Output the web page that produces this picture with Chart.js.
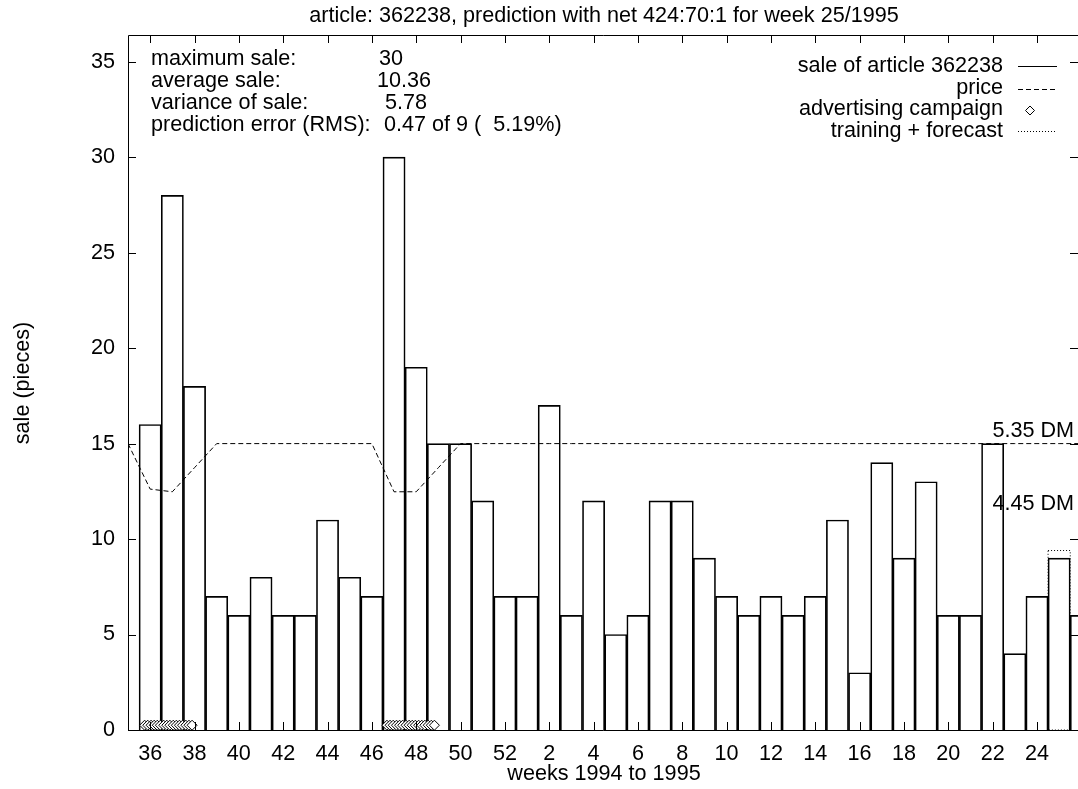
<!DOCTYPE html>
<html>
<head>
<meta charset="utf-8">
<script src="https://cdn.jsdelivr.net/npm/chart.js@4.4.0/dist/chart.umd.min.js"></script>
<style>
  body { margin: 0; background: #fff; }
  canvas { display: block; }
</style>
</head>
<body>
<canvas id="chart" width="1078" height="789"></canvas>
<script>
// weeks on the x axis, 35/1994 .. 26/1995
const weeks = [35, 36, 37, 38, 39, 40, 41, 42, 43, 44, 45, 46, 47, 48, 49, 50, 51, 52,
  1, 2, 3, 4, 5, 6, 7, 8, 9, 10, 11, 12, 13, 14, 15, 16, 17, 18, 19, 20, 21, 22, 23, 24, 25, 26];
const sales = [null, 16, 28, 18, 7, 6, 8, 6, 6, 11, 8, 7, 30, 19, 15, 15, 12, 7,
  7, 17, 6, 12, 5, 6, 12, 12, 9, 7, 6, 7, 6, 7, 11, 3, 14, 9, 13, 6, 6, 15, 4, 7, 9, 6];
// price in DM, 5.35 DM is drawn at sale level 15
const priceDM = [5.35, 4.50, 4.45, 4.90, 5.35, 5.35, 5.35, 5.35, 5.35, 5.35, 5.35, 5.35, 4.45, 4.45, 4.90, 5.35, 5.35, 5.35,
  5.35, 5.35, 5.35, 5.35, 5.35, 5.35, 5.35, 5.35, 5.35, 5.35, 5.35, 5.35, 5.35, 5.35, 5.35, 5.35, 5.35, 5.35, 5.35, 5.35, 5.35, 5.35, 5.35, 5.35, 5.35, 5.35];
// advertising campaign days (position in weeks from week 35)
const campaignX = [0.75, 0.89, 1.04, 1.18, 1.32, 1.46, 1.61, 1.75, 1.89, 2.04, 2.18, 2.32, 2.46, 2.61, 2.75, 2.89,
  11.68, 11.82, 11.96, 12.11, 12.25, 12.39, 12.54, 12.68, 12.82, 12.96, 13.11, 13.25, 13.39, 13.54, 13.68, 13.82];
const campaignLevel = 0.25;
const forecastWeeks = [25];
const forecastSales = [9.4];

const tickWeeks = [36, 38, 40, 42, 44, 46, 48, 50, 52, 2, 4, 6, 8, 10, 12, 14, 16, 18, 20, 22, 24];
const yTicks = [0, 5, 10, 15, 20, 25, 30, 35];
const yMax = 36.4;

const stats = [
  ["maximum sale:", "30"],
  ["average sale:", "10.36"],
  ["variance of sale:", "5.78"],
  ["prediction error (RMS):", "0.47 of 9 (  5.19%)"]
];
const legendLabels = ["sale of article 362238", "price", "advertising campaign", "training + forecast"];

const FONT = "21.6px 'Liberation Sans', Arial, sans-serif";
Chart.defaults.font.family = "'Liberation Sans', Arial, sans-serif";
Chart.defaults.font.size = 21.6;
Chart.defaults.color = "#000";

const gnuFrame = {
  id: "gnuFrame",
  afterDatasetsDraw(chart) {
    const { ctx, chartArea: a } = chart;
    // dotted boxes for the forecast
    const meta = chart.getDatasetMeta(3);
    ctx.save();
    ctx.beginPath();
    ctx.rect(a.left, a.top, a.right - a.left, a.bottom - a.top);
    ctx.clip();
    ctx.strokeStyle = "#000";
    ctx.lineWidth = 1;
    ctx.setLineDash([1, 2]);
    meta.data.forEach((el) => {
      const { x, y, base, width } = el.getProps(["x", "y", "base", "width"], true);
      ctx.strokeRect(x - width / 2, y, width, base - y);
    });
    ctx.restore();
  },
  afterDraw(chart) {
    const { ctx, chartArea: a, scales } = chart;
    ctx.save();
    ctx.strokeStyle = "#000";
    ctx.lineWidth = 1;
    ctx.beginPath();
    ctx.moveTo(a.right, a.top + 0.5);
    ctx.lineTo(a.left + 0.5, a.top + 0.5);
    ctx.lineTo(a.left + 0.5, a.bottom + 0.5);
    ctx.lineTo(a.right, a.bottom + 0.5);
    scales.x.ticks.forEach((t) => {
      const px = Math.round(scales.x.getPixelForValue(t.value)) + 0.5;
      ctx.moveTo(px, a.bottom);
      ctx.lineTo(px, a.bottom - 8);
      ctx.moveTo(px, a.top);
      ctx.lineTo(px, a.top + 8);
    });
    scales.y.ticks.forEach((t) => {
      const py = Math.round(scales.y.getPixelForValue(t.value)) + 0.5;
      ctx.moveTo(a.left, py);
      ctx.lineTo(a.left + 8, py);
      ctx.moveTo(a.right, py);
      ctx.lineTo(a.right - 8, py);
    });
    ctx.stroke();

    ctx.fillStyle = "#000";
    ctx.font = FONT;
    ctx.textBaseline = "middle";
    ctx.textAlign = "center";
    ctx.fillText("article: 362238, prediction with net 424:70:1 for week 25/1995", 604, 16.5);
    ctx.fillText("weeks 1994 to 1995", 604, 774);
    ctx.save();
    ctx.translate(23, 383);
    ctx.rotate(-Math.PI / 2);
    ctx.fillText("sale (pieces)", 0, 0);
    ctx.restore();

    // statistics block
    ctx.textAlign = "left";
    const valueX = [379, 377, 385, 384];
    stats.forEach((s, i) => {
      const yy = 59.5 + i * 21.7;
      ctx.fillText(s[0], 151, yy);
      ctx.fillText(s[1], valueX[i], yy);
    });

    // price labels
    ctx.textAlign = "right";
    ctx.fillText("5.35 DM", 1074, 431);
    ctx.fillText("4.45 DM", 1074, 504);

    // key
    legendLabels.forEach((l, i) => {
      ctx.fillText(l, 1003, 66 + i * 21.7);
    });
    ctx.beginPath();
    ctx.moveTo(1018, 66.5); ctx.lineTo(1057, 66.5);
    ctx.stroke();
    ctx.setLineDash([5, 3]);
    ctx.beginPath();
    ctx.moveTo(1018, 89.5); ctx.lineTo(1057, 89.5);
    ctx.stroke();
    ctx.setLineDash([1, 2]);
    ctx.beginPath();
    ctx.moveTo(1018, 131.5); ctx.lineTo(1057, 131.5);
    ctx.stroke();
    ctx.setLineDash([]);
    ctx.fillStyle = "#fff";
    ctx.beginPath();
    ctx.moveTo(1030, 106); ctx.lineTo(1034.5, 110.5); ctx.lineTo(1030, 115); ctx.lineTo(1025.5, 110.5);
    ctx.closePath();
    ctx.fill();
    ctx.stroke();
    ctx.restore();
  }
};

new Chart(document.getElementById("chart"), {
  type: "bar",
  data: {
    datasets: [
      {
        type: "scatter",
        label: "advertising campaign",
        data: campaignX.map((x) => ({ x: x, y: campaignLevel })),
        pointStyle: "rectRot",
        pointRadius: 5,
        borderColor: "#000",
        backgroundColor: "#fff",
        borderWidth: 1,
        order: 0
      },
      {
        type: "line",
        label: "price",
        yAxisID: "yp",
        data: priceDM.map((p, i) => ({ x: i, y: p })),
        borderColor: "#000",
        borderWidth: 1,
        borderDash: [5, 3],
        pointRadius: 0,
        fill: false,
        order: 1
      },
      {
        type: "bar",
        label: "sale of article 362238",
        data: sales.map((v, i) => ({ x: i, y: v })),
        backgroundColor: "rgba(0,0,0,0)",
        borderColor: "#000",
        borderWidth: 1,
        borderSkipped: "start",
        grouped: false,
        barPercentage: 1,
        categoryPercentage: 1,
        order: 2
      },
      {
        type: "bar",
        label: "training + forecast",
        data: forecastWeeks.map((w, k) => ({ x: weeks.indexOf(w), y: forecastSales[k] })),
        backgroundColor: "rgba(0,0,0,0)",
        borderWidth: 0,
        grouped: false,
        barPercentage: 1,
        categoryPercentage: 1,
        order: 3
      }
    ]
  },
  options: {
    responsive: false,
    animation: false,
    layout: { autoPadding: false, padding: { top: 35, left: 0, right: 0, bottom: 0 } },
    plugins: { legend: { display: false }, tooltip: { enabled: false }, title: { display: false } },
    scales: {
      x: {
        type: "linear",
        offset: false,
        min: 0,
        max: 42.85,
        grid: { display: false, drawTicks: false, offset: false },
        border: { display: false },
        afterBuildTicks: (s) => { s.ticks = tickWeeks.map((w) => ({ value: weeks.indexOf(w) })); },
        afterFit: (s) => { s.height = 59; s.paddingLeft = 0; s.paddingRight = 0; },
        ticks: { autoSkip: false, maxRotation: 0, padding: 11, callback: (v) => weeks[v] }
      },
      y: {
        min: 0,
        max: yMax,
        grid: { display: false, drawTicks: false },
        border: { display: false },
        afterBuildTicks: (s) => { s.ticks = yTicks.map((v) => ({ value: v })); },
        afterFit: (s) => { s.width = 128; s.paddingTop = 0; s.paddingBottom = 0; },
        ticks: { padding: 13 }
      },
      yp: {
        display: false,
        min: 0,
        max: yMax * 5.35 / 15
      }
    }
  },
  plugins: [gnuFrame]
});
</script>
</body>
</html>
